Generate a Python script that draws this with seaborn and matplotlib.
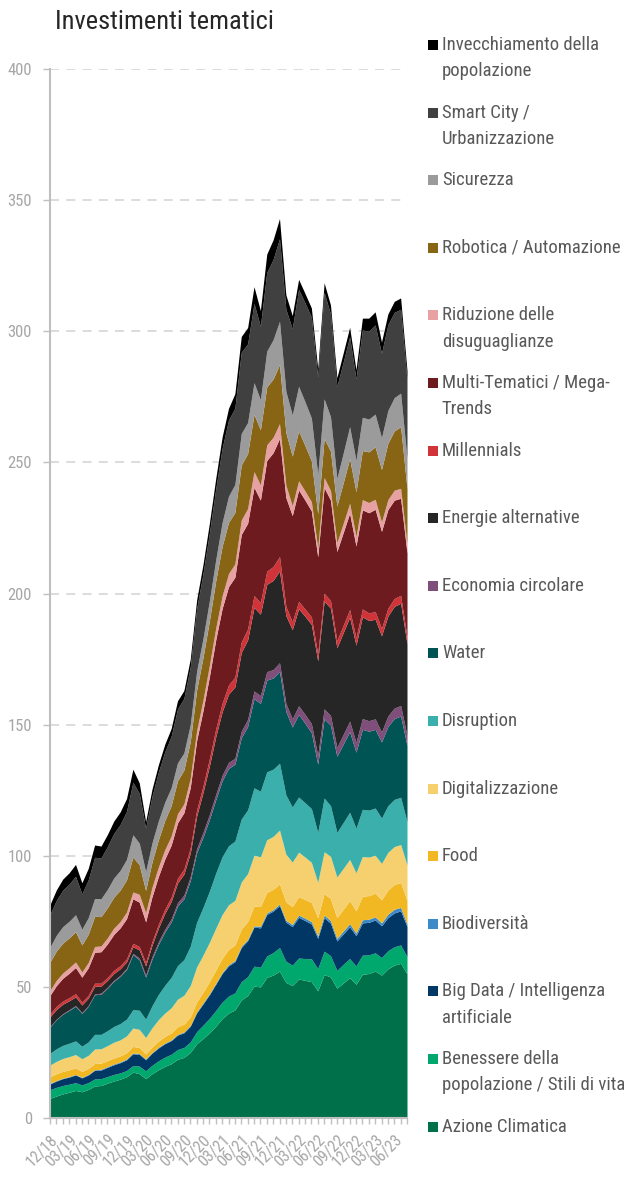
import matplotlib
matplotlib.use("Agg")
import matplotlib.pyplot as plt
from matplotlib.patches import Rectangle
from matplotlib import font_manager as fm
import seaborn as sns
import pandas as pd
import numpy as np

# ---- categories (monthly, 12/18 .. 08/23) ----
months = list(pd.date_range("2018-12-01", periods=57, freq="MS").strftime("%m/%y"))

# ---- series values (bottom to top of the stack) ----
azione = [7.5, 8.4, 9.2, 9.8, 10.5, 10.0, 10.9, 12.2, 12.4, 13.3, 14.1, 14.8, 15.7, 17.5, 16.9, 15.0, 16.9, 18.4, 19.7, 20.7, 22.4, 23.1, 25.0, 28.3, 30.3, 32.5, 35.0, 37.9, 40.0, 41.2, 45.0, 46.7, 50.3, 50.0, 53.6, 54.5, 56.0, 51.7, 50.5, 53.0, 52.5, 52.0, 48.5, 54.7, 53.8, 49.5, 51.5, 53.5, 51.0, 54.8, 55.1, 56.0, 54.5, 56.9, 58.3, 59.0, 55.0]
benessere = [3.3, 3.3, 3.2, 3.1, 3.0, 2.6, 2.6, 2.7, 2.6, 2.5, 2.5, 2.4, 2.4, 2.5, 2.9, 3.0, 3.2, 3.4, 3.5, 3.6, 3.7, 3.8, 4.0, 4.6, 5.1, 5.5, 6.0, 6.3, 6.5, 6.5, 7.0, 7.2, 7.6, 7.5, 8.2, 8.6, 9.0, 8.1, 7.8, 8.0, 8.3, 8.7, 8.5, 8.9, 8.1, 6.8, 7.1, 7.3, 7.0, 7.3, 7.1, 7.0, 6.7, 6.9, 7.0, 7.0, 6.5]
big_data = [2.2, 2.4, 2.6, 2.7, 2.9, 2.7, 2.9, 3.3, 3.3, 3.5, 3.7, 3.9, 4.1, 4.5, 4.5, 4.2, 4.6, 4.9, 5.1, 5.2, 5.5, 5.6, 6.0, 7.2, 8.1, 9.0, 10.0, 10.9, 11.5, 11.9, 13.0, 13.7, 14.9, 15.0, 15.8, 15.8, 16.0, 14.9, 14.7, 15.5, 14.5, 13.3, 11.5, 12.8, 12.4, 11.2, 11.6, 12.1, 11.5, 12.3, 12.4, 12.5, 12.1, 12.6, 12.9, 13.0, 11.5]
biodiversita = [0.2, 0.2, 0.2, 0.2, 0.2, 0.2, 0.2, 0.2, 0.3, 0.3, 0.3, 0.3, 0.3, 0.3, 0.3, 0.3, 0.3, 0.3, 0.3, 0.3, 0.3, 0.3, 0.3, 0.3, 0.4, 0.4, 0.4, 0.4, 0.5, 0.5, 0.5, 0.5, 0.5, 0.6, 0.6, 0.6, 0.6, 0.7, 0.8, 0.9, 0.9, 0.9, 0.9, 1.0, 1.0, 1.0, 1.1, 1.2, 1.0, 1.2, 1.2, 1.2, 1.1, 1.3, 1.4, 1.3, 1.0]
food = [2.6, 2.6, 2.6, 2.6, 2.5, 2.3, 2.3, 2.4, 2.3, 2.3, 2.3, 2.3, 2.4, 2.5, 2.3, 1.9, 2.1, 2.3, 2.5, 2.6, 2.9, 3.0, 3.2, 3.8, 4.1, 4.6, 5.0, 5.4, 5.8, 5.9, 6.5, 6.8, 7.5, 7.5, 7.8, 7.7, 7.7, 7.0, 6.8, 7.0, 7.1, 7.3, 7.0, 8.2, 8.3, 7.9, 8.3, 8.8, 8.5, 9.0, 9.0, 9.0, 8.8, 9.2, 9.4, 9.5, 9.0]
digitalizzazione = [4.4, 4.7, 4.9, 5.0, 5.1, 4.8, 5.0, 5.5, 5.5, 5.7, 6.0, 6.1, 6.4, 7.0, 6.9, 6.3, 7.3, 8.2, 8.9, 9.6, 10.5, 11.0, 12.0, 13.4, 14.1, 15.0, 16.0, 16.7, 17.0, 17.0, 18.0, 18.3, 19.4, 19.0, 20.1, 20.2, 20.5, 18.2, 17.0, 17.0, 16.2, 15.3, 13.5, 15.9, 16.2, 15.5, 15.6, 15.7, 14.5, 15.1, 14.7, 14.5, 13.9, 14.4, 14.5, 14.5, 13.5]
disruption = [4.5, 4.8, 5.0, 5.1, 5.2, 4.8, 5.1, 5.6, 5.5, 5.7, 6.0, 6.2, 6.4, 7.0, 7.3, 7.0, 8.4, 9.6, 10.6, 11.6, 12.8, 13.6, 15.0, 17.0, 18.2, 19.5, 21.0, 22.0, 22.5, 22.6, 24.0, 24.3, 25.7, 25.0, 25.9, 25.6, 25.5, 22.6, 21.0, 21.0, 20.7, 20.5, 19.0, 20.5, 19.3, 17.0, 17.5, 18.0, 17.0, 18.0, 17.9, 18.0, 17.3, 17.8, 18.0, 18.0, 16.5]
water = [10.0, 11.1, 11.9, 12.5, 13.2, 12.5, 13.6, 15.1, 15.3, 16.2, 17.2, 18.0, 18.9, 21.0, 19.2, 16.0, 17.8, 19.1, 20.3, 21.1, 22.7, 23.2, 25.0, 26.5, 26.8, 27.3, 28.0, 29.0, 29.5, 29.3, 31.0, 31.8, 34.0, 33.5, 35.0, 34.8, 35.0, 31.8, 30.5, 31.5, 30.3, 28.9, 26.0, 30.2, 30.7, 29.0, 29.9, 30.7, 29.0, 30.5, 30.1, 30.0, 29.0, 30.2, 30.8, 31.0, 29.0]
economia_circolare = [0.2, 0.2, 0.2, 0.3, 0.3, 0.3, 0.3, 0.3, 0.4, 0.4, 0.4, 0.4, 0.5, 0.5, 0.7, 0.8, 0.9, 1.0, 1.1, 1.2, 1.3, 1.4, 1.5, 1.6, 1.8, 1.9, 2.0, 2.1, 2.3, 2.3, 2.5, 2.7, 2.9, 3.0, 3.2, 3.2, 3.3, 3.1, 3.1, 3.3, 3.4, 3.5, 3.4, 3.8, 3.7, 3.4, 3.7, 4.0, 3.8, 4.1, 4.0, 4.0, 3.8, 4.0, 4.0, 4.0, 3.8]
energie = [3.7, 3.7, 3.6, 3.4, 3.3, 2.9, 2.8, 2.9, 2.7, 2.6, 2.6, 2.5, 2.4, 2.5, 3.1, 3.5, 4.4, 5.2, 6.0, 6.6, 7.5, 8.0, 9.0, 12.4, 15.2, 18.5, 22.0, 24.2, 26.0, 27.2, 30.0, 30.3, 31.9, 31.0, 33.3, 34.0, 35.0, 33.5, 34.0, 37.0, 37.4, 37.8, 36.0, 41.1, 40.9, 38.0, 38.8, 39.6, 37.0, 38.8, 38.2, 38.0, 36.7, 38.1, 38.8, 39.0, 35.0]
millennials = [1.2, 1.2, 1.2, 1.2, 1.2, 1.1, 1.1, 1.2, 1.1, 1.1, 1.2, 1.2, 1.2, 1.3, 1.3, 1.3, 1.4, 1.5, 1.6, 1.7, 1.8, 1.9, 2.0, 2.3, 2.5, 2.8, 3.0, 3.3, 3.5, 3.7, 4.0, 4.2, 4.5, 4.5, 5.0, 5.3, 5.5, 3.5, 3.0, 2.8, 2.8, 2.9, 2.7, 3.0, 2.9, 2.7, 2.8, 3.0, 2.8, 3.0, 2.9, 2.9, 2.8, 3.0, 3.0, 3.0, 2.7]
multi_tematici = [7.0, 7.9, 8.7, 9.3, 10.0, 9.5, 10.5, 11.8, 12.0, 12.8, 13.7, 14.4, 15.3, 17.0, 16.9, 15.5, 17.1, 18.2, 19.1, 19.8, 21.1, 21.5, 23.0, 26.5, 28.8, 31.3, 34.0, 36.1, 37.5, 38.1, 41.0, 40.3, 41.3, 39.0, 42.2, 43.4, 45.0, 41.5, 40.5, 42.5, 41.5, 40.4, 37.0, 40.3, 38.3, 34.0, 35.4, 36.7, 35.0, 37.8, 38.2, 39.0, 37.0, 37.6, 37.5, 37.0, 32.0]
riduzione = [1.9, 2.0, 2.0, 2.1, 2.1, 2.0, 2.0, 2.2, 2.2, 2.3, 2.4, 2.4, 2.5, 2.6, 3.0, 3.5, 3.6, 3.6, 3.6, 3.5, 3.5, 3.4, 3.5, 3.8, 4.0, 4.3, 4.5, 4.8, 5.0, 5.1, 5.5, 5.6, 6.0, 5.8, 6.0, 5.9, 5.7, 4.7, 3.8, 3.5, 3.5, 3.5, 3.4, 3.8, 3.7, 3.4, 3.5, 3.8, 3.7, 3.9, 3.9, 3.8, 3.6, 3.8, 3.8, 3.8, 3.5]
robotica = [10.8, 11.2, 11.4, 11.4, 11.5, 10.3, 10.8, 11.5, 11.2, 11.5, 11.8, 12.0, 12.3, 13.3, 11.3, 8.5, 9.6, 10.4, 11.1, 11.6, 12.6, 12.9, 14.0, 15.5, 16.2, 17.0, 18.0, 18.9, 19.5, 19.6, 21.0, 21.0, 21.8, 21.0, 22.1, 22.2, 22.5, 20.1, 18.9, 19.0, 17.3, 15.6, 13.0, 14.9, 15.0, 14.0, 15.5, 17.0, 17.0, 18.7, 19.3, 20.0, 20.0, 21.5, 22.6, 23.5, 21.0]
sicurezza = [5.7, 6.0, 6.3, 6.3, 6.5, 6.0, 6.3, 6.8, 6.8, 7.0, 7.3, 7.5, 7.8, 8.5, 8.2, 7.2, 7.3, 7.2, 7.0, 6.8, 6.8, 6.5, 6.5, 7.1, 7.3, 7.6, 8.0, 9.1, 10.0, 10.7, 12.0, 11.8, 12.1, 11.5, 13.6, 15.0, 16.5, 15.7, 15.7, 17.0, 16.7, 16.3, 15.0, 15.1, 13.1, 10.5, 11.3, 12.2, 12.0, 12.7, 12.5, 12.5, 12.1, 12.5, 12.7, 12.8, 11.5]
smart_city = [12.5, 13.3, 13.9, 14.2, 14.7, 13.5, 14.4, 15.7, 15.6, 16.3, 17.0, 17.5, 18.3, 20.0, 19.0, 16.5, 17.8, 18.6, 19.2, 19.6, 20.6, 20.8, 22.0, 23.9, 24.7, 25.8, 27.0, 28.3, 29.0, 29.1, 31.0, 30.0, 30.2, 28.0, 30.0, 30.6, 31.5, 31.3, 32.9, 37.0, 37.7, 38.5, 37.0, 40.7, 39.1, 35.0, 34.7, 34.3, 31.0, 33.3, 33.5, 34.0, 32.2, 32.7, 32.5, 32.0, 30.0]
invecchiamento = [3.7, 4.0, 4.2, 4.3, 4.5, 4.2, 4.4, 4.7, 4.5, 4.6, 4.7, 4.8, 4.9, 5.0, 4.0, 2.5, 2.7, 2.8, 2.9, 3.0, 3.1, 3.0, 3.0, 3.3, 3.5, 3.8, 4.0, 4.3, 4.5, 5.5, 6.0, 6.2, 6.4, 6.0, 7.0, 7.5, 7.7, 5.5, 5.0, 3.8, 3.6, 3.5, 3.3, 3.6, 3.5, 3.4, 3.5, 3.6, 3.5, 4.5, 5.0, 5.0, 4.3, 4.1, 4.2, 4.3, 3.5]

series_labels = [
    "Azione Climatica",
    "Benessere della\npopolazione / Stili di vita",
    "Big Data / Intelligenza\nartificiale",
    "Biodiversità",
    "Food",
    "Digitalizzazione",
    "Disruption",
    "Water",
    "Economia circolare",
    "Energie alternative",
    "Millennials",
    "Multi-Tematici / Mega-\nTrends",
    "Riduzione delle\ndisuguaglianze",
    "Robotica / Automazione",
    "Sicurezza",
    "Smart City /\nUrbanizzazione",
    "Invecchiamento della\npopolazione",
]
series_values = [azione, benessere, big_data, biodiversita, food, digitalizzazione,
                 disruption, water, economia_circolare, energie, millennials,
                 multi_tematici, riduzione, robotica, sicurezza, smart_city, invecchiamento]
series_colors = ["#00704A", "#00A86D", "#003764", "#3D8AC8", "#F2B824", "#F6D06F",
                 "#3AAFAC", "#005453", "#7F4E7B", "#262626", "#D13438", "#6E1B1F",
                 "#E8A1A3", "#876514", "#9B9B9B", "#404040", "#000000"]

for v in series_values:
    assert len(v) == len(months), len(v)

df = pd.DataFrame({lab: vals for lab, vals in zip(series_labels, series_values)}, index=months)

sns.set_theme(style="white")

# pick a narrow font if one is installed, else Liberation Sans at a smaller size
installed = sorted({f.name for f in fm.fontManager.ttflist})
narrow = None
for cand in ["Liberation Sans Narrow", "Arial Narrow", "Roboto Condensed",
             "Open Sans Condensed", "Noto Sans Condensed"]:
    if cand in installed:
        narrow = cand
        break
if narrow is None:
    for n in installed:
        if "Narrow" in n or "Condensed" in n:
            narrow = n
            break
if narrow is not None:
    FONT = [narrow, "Liberation Sans", "DejaVu Sans"]
    LEG_FS, TICK_FS, TITLE_FS = 13.5, 11.5, 19
else:
    FONT = ["Liberation Sans", "DejaVu Sans"]
    LEG_FS, TICK_FS, TITLE_FS = 11.5, 10.5, 17
plt.rcParams["font.family"] = FONT
palette = sns.color_palette(series_colors)

W, H = 624, 1187
fig = plt.figure(figsize=(W / 100, H / 100), dpi=100)
ax = fig.add_axes([50 / W, 69 / H, (407 - 50) / W, (1118 - 69) / H])

x = np.arange(len(months))
ax.stackplot(x, df.T.values, colors=palette, linewidth=0, zorder=2)

ax.set_xlim(0, len(months) - 1)
ax.set_ylim(0, 400)
ax.set_yticks(range(0, 401, 50))
ax.yaxis.grid(True, linestyle=(0, (5, 4)), color="#D9D9D9", linewidth=1.3, zorder=0)
ax.xaxis.grid(False)
ax.set_axisbelow(True)

ax.set_xticks(x[::3])
ax.set_xticklabels(months[::3], rotation=45, ha="right", rotation_mode="anchor",
                   fontsize=TICK_FS, color="#A6A6A6")
ax.set_xticks(x, minor=True)
ax.tick_params(axis="x", which="both", direction="out", length=4, width=1,
               color="#BFBFBF", pad=6, bottom=True)
ax.tick_params(axis="y", which="major", direction="out", length=5, width=1,
               color="#BFBFBF", labelsize=TICK_FS + 0.5, labelcolor="#A6A6A6", pad=8, left=True)

for s in ["top", "right"]:
    ax.spines[s].set_visible(False)
for s in ["left", "bottom"]:
    ax.spines[s].set_color("#BFBFBF")
    ax.spines[s].set_linewidth(1.5)

fig.text(55 / W, 1 - 22 / H, "Investimenti tematici", fontsize=TITLE_FS, color="#262626",
         va="center", ha="left")

# legend (top entry = top of the stack)
y0, dy = 45, 67.6
for k, (lab, col) in enumerate(zip(series_labels[::-1], series_colors[::-1])):
    yc = y0 + k * dy
    fig.patches.append(Rectangle((428 / W, 1 - (yc + 5) / H), 10 / W, 10 / H,
                                 transform=fig.transFigure, facecolor=col,
                                 edgecolor="none"))
    fig.text(442 / W, 1 - (yc - 9) / H, lab, fontsize=LEG_FS, color="#595959",
             va="top", ha="left", linespacing=1.6)

fig.savefig("out.png", dpi=100)
